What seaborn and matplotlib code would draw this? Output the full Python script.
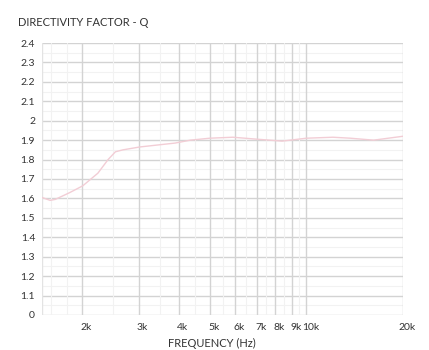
import matplotlib
matplotlib.use("Agg")
import matplotlib.pyplot as plt
import matplotlib.transforms as mtransforms
import seaborn as sns
import pandas as pd

freq_hz = [1500, 1590, 1650, 1830, 2010, 2240, 2410, 2540, 2680, 3030, 3900, 4350,
           5000, 5900, 7000, 8400, 10000, 12100, 13700, 16200, 20000]
q_values = [1.605, 1.59, 1.595, 1.63, 1.665, 1.73, 1.80, 1.84, 1.85, 1.865, 1.885, 1.90,
            1.91, 1.915, 1.905, 1.895, 1.91, 1.915, 1.91, 1.90, 1.92]
x_ticks = [2000, 3000, 4000, 5000, 6000, 7000, 8000, 9000, 10000, 20000]
x_tick_labels = ["2k", "3k", "4k", "5k", "6k", "7k", "8k", "9k", "10k", "20k"]
y_ticks = [1.0, 1.1, 1.2, 1.3, 1.4, 1.5, 1.6, 1.7, 1.8, 1.9, 2.0, 2.1, 2.2, 2.3, 2.4]
y_tick_labels = ["0", "1.1", "1.2", "1.3", "1.4", "1.5", "1.6", "1.7", "1.8", "1.9", "2",
                 "2.1", "2.2", "2.3", "2.4"]

df = pd.DataFrame({"freq": freq_hz, "q": q_values})

sns.set_theme(style="white")
plt.rcParams["font.family"] = ["Lato", "DejaVu Sans"]

fig = plt.figure(figsize=(4.29, 3.5), dpi=100)
ax = fig.add_axes([42/429, 1 - 315/350, (403-42)/429, (315-43)/350])

ax.set_xscale("log")
ax.set_xlim(1500, 20000)
ax.set_ylim(1.0, 2.4)

# grid
for yv in y_ticks:
    ax.axhline(yv, color="#d3d3d3", lw=1.0, zorder=0)
for yv in [v + 0.05 for v in y_ticks[:-1]]:
    ax.axhline(yv, color="#f2f2f2", lw=0.8, zorder=0)
for xv in x_ticks:
    ax.axvline(xv, color="#d3d3d3", lw=1.0, zorder=0)
for xv in [1600, 1800, 2500, 3500, 4500, 5500, 6500, 7500, 8500, 9500]:
    ax.axvline(xv, color="#f2f2f2", lw=0.8, zorder=0)
ax.axvline(1500, color="#e3e3e3", lw=1.0, zorder=0)

sns.lineplot(data=df, x="freq", y="q", ax=ax, color="#f2cdd5", lw=1.0, zorder=3)

for s in ax.spines.values():
    s.set_visible(False)

ax.set_xticks(x_ticks)
ax.set_xticklabels(x_tick_labels)
ax.xaxis.set_minor_locator(matplotlib.ticker.NullLocator())
ax.set_yticks(y_ticks)
ax.set_yticklabels(y_tick_labels)
ax.tick_params(axis="both", length=0, labelsize=7.5, colors="#333333")
ax.tick_params(axis="x", pad=6)
ax.tick_params(axis="y", pad=5)
offset = mtransforms.ScaledTranslation(4/100, 0, fig.dpi_scale_trans)
for lab in ax.get_xticklabels():
    lab.set_transform(lab.get_transform() + offset)

ax.set_xlabel("")
ax.set_ylabel("")
fig.text(212/429, 1 - 343/350, "FREQUENCY (Hz)", ha="center", va="center",
         fontsize=8, color="#333333")
fig.text(18/429, 1 - 23/350, "DIRECTIVITY FACTOR - Q", ha="left", va="center",
         fontsize=8, color="#333333")

fig.savefig("out.png", dpi=100, facecolor="white")
